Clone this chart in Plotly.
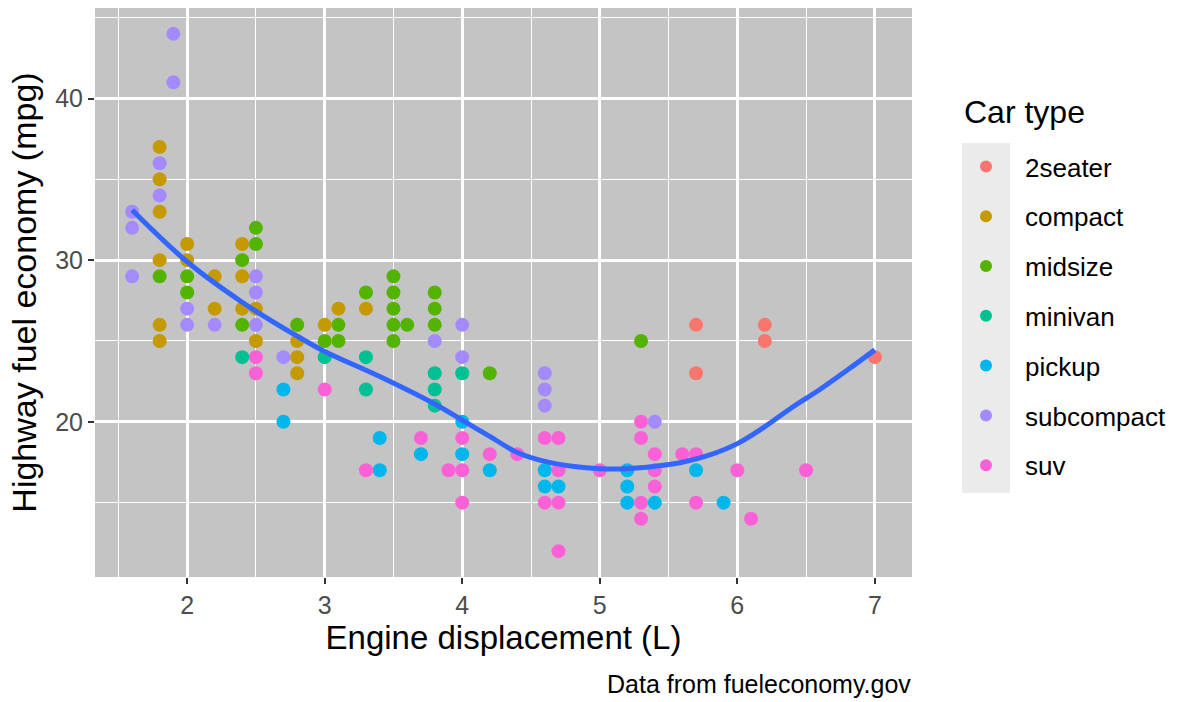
import plotly.graph_objects as go

classes = ["2seater", "compact", "midsize", "minivan", "pickup", "subcompact", "suv"]
colors = ["#F8766D", "#C49A00", "#53B400", "#00C094", "#00B6EB", "#A58AFF", "#FB61D7"]

displ_2seater = [5.7, 5.7, 6.2, 6.2, 7.0]
hwy_2seater = [26, 23, 26, 25, 24]

displ_compact = [1.8, 1.8, 1.8, 1.8, 1.8, 1.8, 2.0, 2.0, 2.2, 2.2, 2.4, 2.4, 2.4, 2.5, 2.5,
                 2.8, 2.8, 2.8, 2.8, 3.0, 3.1, 3.3]
hwy_compact = [37, 35, 33, 30, 26, 25, 31, 30, 29, 27, 31, 29, 27, 27, 25,
               26, 25, 24, 23, 26, 27, 27]

displ_midsize = [1.8, 2.0, 2.0, 2.4, 2.4, 2.5, 2.5, 2.8, 3.0, 3.1, 3.1, 3.3, 3.5, 3.5, 3.5,
                 3.5, 3.5, 3.6, 3.8, 3.8, 3.8, 4.2, 5.3]
hwy_midsize = [29, 29, 28, 30, 26, 32, 31, 26, 25, 26, 25, 28, 29, 28, 27,
               26, 25, 26, 28, 27, 26, 23, 25]

displ_minivan = [2.4, 3.0, 3.3, 3.3, 3.8, 3.8, 3.8, 4.0]
hwy_minivan = [24, 24, 24, 22, 23, 22, 21, 23]

displ_pickup = [2.7, 2.7, 3.4, 3.4, 3.7, 4.0, 4.0, 4.2, 4.6, 4.6, 4.7, 5.2, 5.2, 5.2, 5.4, 5.7, 5.9]
hwy_pickup = [22, 20, 19, 17, 18, 20, 18, 17, 17, 16, 16, 17, 16, 15, 15, 17, 15]

displ_subcompact = [1.6, 1.6, 1.6, 1.8, 1.8, 1.9, 1.9, 2.0, 2.0, 2.2, 2.5, 2.5, 2.5, 2.7,
                    3.8, 4.0, 4.0, 4.6, 4.6, 4.6, 5.4]
hwy_subcompact = [33, 32, 29, 36, 34, 44, 41, 27, 26, 26, 29, 28, 26, 24,
                  25, 26, 24, 23, 22, 21, 20]

displ_suv = [2.5, 2.5, 3.0, 3.3, 3.7, 3.9, 4.0, 4.0, 4.0, 4.2, 4.4, 4.6, 4.6, 4.7, 4.7, 4.7,
             4.7, 5.0, 5.3, 5.3, 5.3, 5.3, 5.4, 5.4, 5.4, 5.6, 5.7, 5.7, 6.0, 6.1, 6.5]
hwy_suv = [24, 23, 22, 17, 19, 17, 19, 17, 15, 18, 18, 19, 15, 19, 17, 15,
           12, 17, 20, 19, 15, 14, 18, 17, 16, 18, 18, 15, 17, 14, 17]

smooth_x = [1.6, 2.0, 2.4, 2.8, 3.0, 3.4, 3.8, 4.0, 4.2, 4.4, 4.6, 4.8, 5.0, 5.2, 5.4,
            5.6, 5.8, 6.0, 6.2, 6.4, 6.6, 6.8, 7.0]
smooth_y = [33.1, 29.9, 27.4, 25.3, 24.35, 22.8, 21.1, 20.1, 19.1, 18.1, 17.55, 17.25, 17.1, 17.1,
            17.25, 17.5, 17.95, 18.65, 19.7, 20.9, 22.0, 23.2, 24.45]

series = [
    (displ_2seater, hwy_2seater), (displ_compact, hwy_compact), (displ_midsize, hwy_midsize),
    (displ_minivan, hwy_minivan), (displ_pickup, hwy_pickup), (displ_subcompact, hwy_subcompact),
    (displ_suv, hwy_suv),
]

FONT = "Liberation Sans, Arial, Helvetica, sans-serif"

# panel geometry (px)
L, R, T, B = 95, 912, 8, 577
PW, PH = R - L, B - T


def px_x(px):
    return (px - L) / PW


def px_y(py):
    return (B - py) / PH


fig = go.Figure()
for name, color, (xs, ys) in zip(classes, colors, series):
    fig.add_trace(go.Scatter(
        x=xs, y=ys, mode="markers", name=name, legendgroup=name,
        marker=dict(color=color, size=14, line=dict(width=0)),
    ))

fig.add_trace(go.Scatter(
    x=smooth_x, y=smooth_y, mode="lines", showlegend=False,
    line=dict(color="#3366FF", width=5, shape="spline", smoothing=1),
    hoverinfo="skip",
))

# legend key background
fig.add_shape(type="rect", xref="paper", yref="paper",
              x0=px_x(962), x1=px_x(1010), y0=px_y(493), y1=px_y(143),
              fillcolor="#EBEBEB", line=dict(width=0), layer="below")

fig.add_annotation(text="Car type", xref="paper", yref="paper",
                   x=px_x(962), y=px_y(112), xanchor="left", yanchor="middle",
                   showarrow=False, font=dict(family=FONT, size=32, color="black"))

fig.add_annotation(text="Data from fueleconomy.gov", xref="paper", yref="paper",
                   x=1.0, y=px_y(684), xanchor="right", yanchor="middle",
                   showarrow=False, borderpad=0,
                   font=dict(family=FONT, size=25, color="black"))

fig.update_layout(
    width=1178, height=702,
    margin=dict(l=L, r=1178 - R, t=T, b=702 - B, autoexpand=False),
    paper_bgcolor="white", plot_bgcolor="#C4C4C4",
    font=dict(family=FONT, color="black"),
    xaxis=dict(
        range=[1.33, 7.27], tickvals=[2, 3, 4, 5, 6, 7], ticktext=["2", "3", "4", "5", "6", "7"],
        showgrid=True, gridcolor="white", gridwidth=2.6, zeroline=False, showline=False,
        ticks="outside", ticklen=6, tickwidth=2, tickcolor="#333333",
        tickfont=dict(family=FONT, size=25, color="#4D4D4D"),
        minor=dict(tick0=1.5, dtick=1, showgrid=True, gridcolor="white", gridwidth=1.3, ticks=""),
        title=dict(text="Engine displacement (L)", font=dict(family=FONT, size=33, color="black"),
                   standoff=2),
        automargin=False,
    ),
    yaxis=dict(
        range=[10.4, 45.6], tickvals=[20, 30, 40], ticktext=["20", "30", "40"],
        showgrid=True, gridcolor="white", gridwidth=2.6, zeroline=False, showline=False,
        ticks="outside", ticklen=6, tickwidth=2, tickcolor="#333333",
        tickfont=dict(family=FONT, size=25, color="#4D4D4D"),
        minor=dict(tick0=15, dtick=10, showgrid=True, gridcolor="white", gridwidth=1.3, ticks=""),
        title=dict(text="Highway fuel economy (mpg)", font=dict(family=FONT, size=34, color="black"),
                   standoff=8),
        automargin=False,
    ),
    legend=dict(
        font=dict(family=FONT, size=26, color="black"),
        x=px_x(947), xanchor="left", y=px_y(143), yanchor="top",
        bgcolor="rgba(0,0,0,0)", tracegroupgap=13, itemsizing="constant", itemwidth=68,
    ),
)

fig.write_html("out.html", post_script="document.body.style.margin='0';",
               config={"displayModeBar": False})
